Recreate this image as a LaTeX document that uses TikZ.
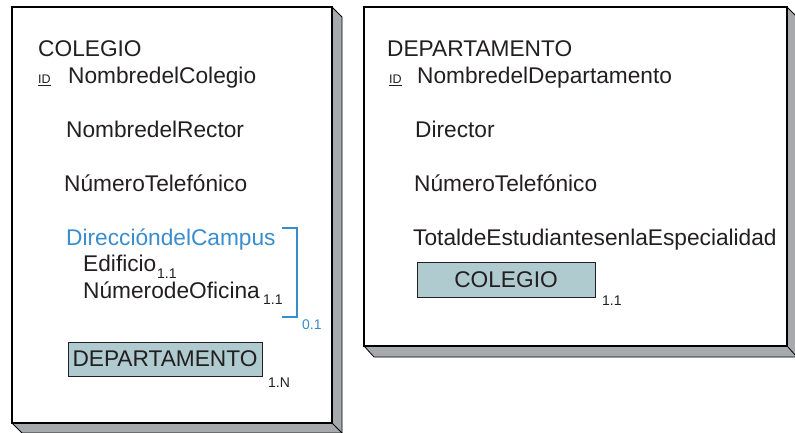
\documentclass[tikz,border=0pt]{standalone}
\usepackage{fontspec}
\setmainfont{Liberation Sans}
\definecolor{ink}{HTML}{231F20}
\definecolor{sidegray}{HTML}{A7A9AC}
\definecolor{entfill}{HTML}{AFCBD0}
\definecolor{attrblue}{HTML}{3A8DCC}
\begin{document}
\begin{tikzpicture}[x=1pt,y=-1pt,
  txt/.style={anchor=base west,inner sep=0pt,font=\fontsize{22.7}{26}\selectfont,text=ink},
  bluetxt/.style={txt,text=attrblue},
  sub/.style={anchor=base west,inner sep=0pt,font=\fontsize{14}{16}\selectfont,text=ink},
  bluesub/.style={sub,text=attrblue},
  idtag/.style={anchor=base west,inner sep=0pt,font=\fontsize{12.5}{14}\selectfont,text=ink},
  front/.style={draw=black,line width=1.8pt,fill=white},
  sideface/.style={draw=black,line width=0.8pt,fill=sidegray,line join=round},
  entbox/.style={draw=ink,line width=1pt,fill=entfill,inner sep=0pt,
    font=\fontsize{22.7}{26}\selectfont,text=ink},
  bracket/.style={draw=attrblue,line width=1.2pt}]
\useasboundingbox (0,0) rectangle (795,433);

% ---------- left entity frame ----------
\path[sideface] (332,7) -- (342,17) -- (342,433) -- (22,433) -- (12,423) -- (332,423) -- cycle;
\draw[line width=0.8pt] (332,423) -- (342,433);
\draw[front] (12,7) rectangle (332,423);

\node[txt] (c-title) at (38,57) {COLEGIO};
\node[idtag] (c-id) at (38,84) {\underline{ID}};
\node[txt] (c-nom) at (68,84) {NombredelColegio};
\node[txt] (c-rec) at (66,138) {NombredelRector};
\node[txt] (c-tel) at (64,191) {NúmeroTelefónico};
\node[bluetxt] (c-dir) at (66,245) {DireccióndelCampus};
\node[txt] (c-edi) at (83,271) {Edificio};
\node[sub] (c-edi-s) at (157,278) {1.1};
\node[txt] (c-ofi) at (83,298) {NúmerodeOficina};
\node[sub] (c-ofi-s) at (263,304) {1.1};
\coordinate (br-a) at (282,228);
\coordinate (br-b) at (297,228);
\coordinate (br-c) at (297,317);
\coordinate (br-d) at (282,317);
\draw[bracket] (br-a) -- (br-b) -- (br-c) -- (br-d);
\node[bluesub] (c-dir-s) at (302,329) {0.1};
\node[entbox,minimum width=194pt,minimum height=34pt] (c-dep) at (165,359) {DEPARTAMENTO};
\node[sub] (c-dep-s) at (268,387) {1.N};

% ---------- right entity frame ----------
\path[sideface] (787,7) -- (797,17) -- (797,357) -- (374,357) -- (364,346) -- (787,346) -- cycle;
\draw[line width=0.8pt] (787,346) -- (797,357);
\draw[front] (364,7) rectangle (787,346);

\node[txt] (d-title) at (387,57) {DEPARTAMENTO};
\node[idtag] (d-id) at (389,84) {\underline{ID}};
\node[txt] (d-nom) at (417,84) {NombredelDepartamento};
\node[txt] (d-dirc) at (415,138) {Director};
\node[txt] (d-tel) at (414,191) {NúmeroTelefónico};
\node[txt] (d-tot) at (413,245) {TotaldeEstudiantesenlaEspecialidad};
\node[entbox,minimum width=178pt,minimum height=35pt] (d-col) at (506,279.5) {COLEGIO};
\node[sub] (d-col-s) at (602,305) {1.1};
\end{tikzpicture}
\end{document}
